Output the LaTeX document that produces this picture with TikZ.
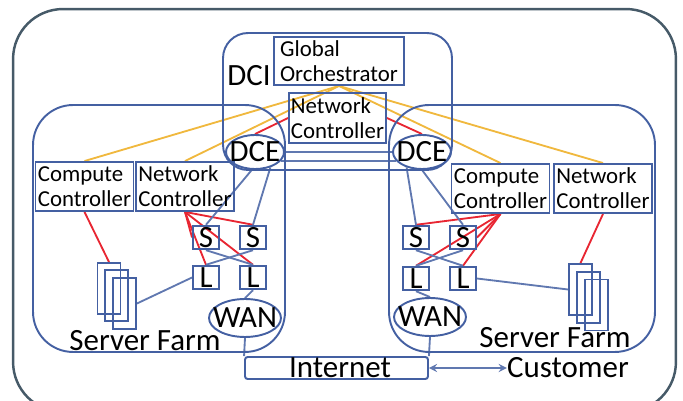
\documentclass[tikz,border=0pt]{standalone}
\usepackage{fontspec}
\setmainfont{Carlito}
\usepackage{tikz}
\definecolor{farmblue}{RGB}{68,96,162}
\definecolor{slategrey}{RGB}{70,90,104}
\definecolor{linkred}{RGB}{232,38,50}
\definecolor{linkorange}{RGB}{240,184,62}
\usetikzlibrary{shapes.geometric}
\pgfdeclarelayer{edgelayer}
\pgfdeclarelayer{nodelayer}
\pgfsetlayers{edgelayer,nodelayer,main}
\tikzstyle{region}=[rectangle,draw=farmblue,line width=1.1pt,inner sep=0pt]
\tikzstyle{ctrl}=[region,minimum width=1.96cm,minimum height=0.98cm,align=left,font=\fontsize{13}{14.2}\selectfont]
\tikzstyle{switch}=[region,minimum width=0.52cm,minimum height=0.47cm,font=\fontsize{17.6}{17.6}\selectfont]
\tikzstyle{server}=[region,minimum width=0.46cm,minimum height=1.02cm]
\tikzstyle{edge}=[ellipse,draw=farmblue,line width=1.1pt,inner xsep=-6pt,inner ysep=-3pt,minimum width=1.16cm,minimum height=0.68cm,font=\fontsize{17.6}{17.6}\selectfont]
\tikzstyle{wan}=[edge,minimum width=1.44cm,minimum height=0.76cm]
\tikzstyle{label}=[inner sep=0pt,font=\fontsize{17.6}{17.6}\selectfont]
\tikzstyle{blueline}=[draw=farmblue!85!white,line width=1.05pt]
\tikzstyle{redline}=[draw=linkred,line width=1.05pt]
\tikzstyle{orangeline}=[draw=linkorange,line width=1.05pt]

\begin{document}
\begin{tikzpicture}[x=0.02cm,y=-0.02cm]
    \useasboundingbox (0, 0) rectangle (683, 401);
    \begin{pgfonlayer}{nodelayer}
        \node [style = region, draw=slategrey, line width=1.4pt, rounded corners=1cm, minimum width=13.26cm, minimum height=8.06cm] (outer) at (344.5, 210.5) {};

        \node [style = region, rounded corners=0.5cm, minimum width=4.58cm, minimum height=2.74cm] (dci) at (337.5, 101.5) {};
        \node [style = region, rounded corners=0.8cm, minimum width=5.04cm, minimum height=4.94cm] (farml) at (159, 228.5) {};
        \node [style = region, rounded corners=0.8cm, minimum width=5.32cm, minimum height=4.94cm] (farmr) at (522, 228.5) {};

        \node [style = label] (dcilabel) at (249, 76) {DCI};
        \node [style = ctrl, minimum width=2.6cm, minimum height=0.96cm] (global) at (339, 61) {Global\\Orchestrator};
        \node [style = ctrl, minimum width=1.94cm, minimum height=1cm] (netdci) at (337.5, 118) {Network\\Controller};

        \node [style = edge] (dcel) at (255, 152) {DCE};
        \node [style = edge] (dcer) at (422, 152) {DCE};

        \node [style = ctrl] (compl) at (84.5, 186.5) {Compute\\Controller};
        \node [style = ctrl] (netl) at (185, 186.5) {Network\\Controller};
        \node [style = ctrl] (compr) at (500.5, 188.5) {Compute\\Controller};
        \node [style = ctrl] (netr) at (603, 188.5) {Network\\Controller};

        \node [style = switch] (sl1) at (206, 237.5) {S};
        \node [style = switch] (sl2) at (253, 237.5) {S};
        \node [style = switch] (ll1) at (206, 277.5) {L};
        \node [style = switch] (ll2) at (253, 277.5) {L};

        \node [style = switch] (sr1) at (416, 237.5) {S};
        \node [style = switch] (sr2) at (463, 237.5) {S};
        \node [style = switch] (lr1) at (416, 278.5) {L};
        \node [style = switch] (lr2) at (463, 278.5) {L};

        \node [style = server] (farml1) at (109, 288.5) {};
        \node [style = server] (farml2) at (116.5, 295.5) {};
        \node [style = server] (farml3) at (124.5, 303.5) {};
        \node [style = server] (farmr1) at (580.5, 289.5) {};
        \node [style = server] (farmr2) at (588.5, 297.5) {};
        \node [style = server] (farmr3) at (596.5, 305) {};

        \node [style = wan] (wanl) at (245, 318) {WAN};
        \node [style = wan] (wanr) at (430, 317) {WAN};

        \node [style = label] (serverl) at (145, 341) {Server Farm};
        \node [style = label] (serverr) at (555, 338) {Server Farm};

        \node [style = region, rounded corners=1.5pt, minimum width=3.66cm, minimum height=0.44cm] (internet) at (336.5, 368) {};
        \node [style = label] (internetlabel) at (340, 368) {Internet};
        \node [style = label] (customer) at (568, 368) {Customer};
    \end{pgfonlayer}

    \begin{pgfonlayer}{edgelayer}
        \draw [style = orangeline] (global.south) to (compl.north);
        \draw [style = orangeline] (global.south) to (netl.north);
        \draw [style = orangeline] (global.south) to (compr.north);
        \draw [style = orangeline] (global.south) to (netr.north);

        \draw [style = redline] (netdci.west) to (dcel.north);
        \draw [style = redline] (netdci.east) to (dcer.north);

        \draw [style = redline] (netl.south) to (sl1.west);
        \draw [style = redline] (netl.south) to (sl2.north);
        \draw [style = redline] (netl.south) to (ll1.north);
        \draw [style = redline] (netl.south) to (ll2.north);
        \draw [style = redline] (compr.south) to (sr1.north);
        \draw [style = redline] (compr.south) to (sr2.east);
        \draw [style = redline] (compr.south) to (lr1.north);
        \draw [style = redline] (compr.south) to (lr2.north);
        \draw [style = redline] (compl.south) to (farml1.north);
        \draw [style = redline] (netr.south) to (farmr1.north);

        \draw [style = blueline] (dcel.east) to (dcer.west);
        \draw [style = blueline] (dcel.-20) to (dcer.200);

        \draw [style = blueline] (dcel.-100) to (sl1.north);
        \draw [style = blueline] (dcel.-45) to (sl2.north);
        \draw [style = blueline] (dcer.-135) to (sr1.north);
        \draw [style = blueline] (dcer.south) to (sr2.north);

        \draw [style = blueline] (sl1.south) to (ll2.north);
        \draw [style = blueline] (sl2.south) to (ll1.north);
        \draw [style = blueline] (sr1.south) to (lr2.north);
        \draw [style = blueline] (sr2.south) to (lr1.north);

        \draw [style = blueline] (ll1.west) to (farml3.east);
        \draw [style = blueline] (lr2.east) to (farmr1.west);

        \draw [style = blueline] (ll2.south) to (wanl.north);
        \draw [style = blueline] (lr1.south) to (wanr.north);
        \draw [style = blueline] (wanl.south) to (internet.north west);
        \draw [style = blueline] (wanr.south) to (internet.north east);

        \draw [style = blueline, <->, >=stealth] (internet.east) to (customer.west);
    \end{pgfonlayer}
\end{tikzpicture}
\end{document}
